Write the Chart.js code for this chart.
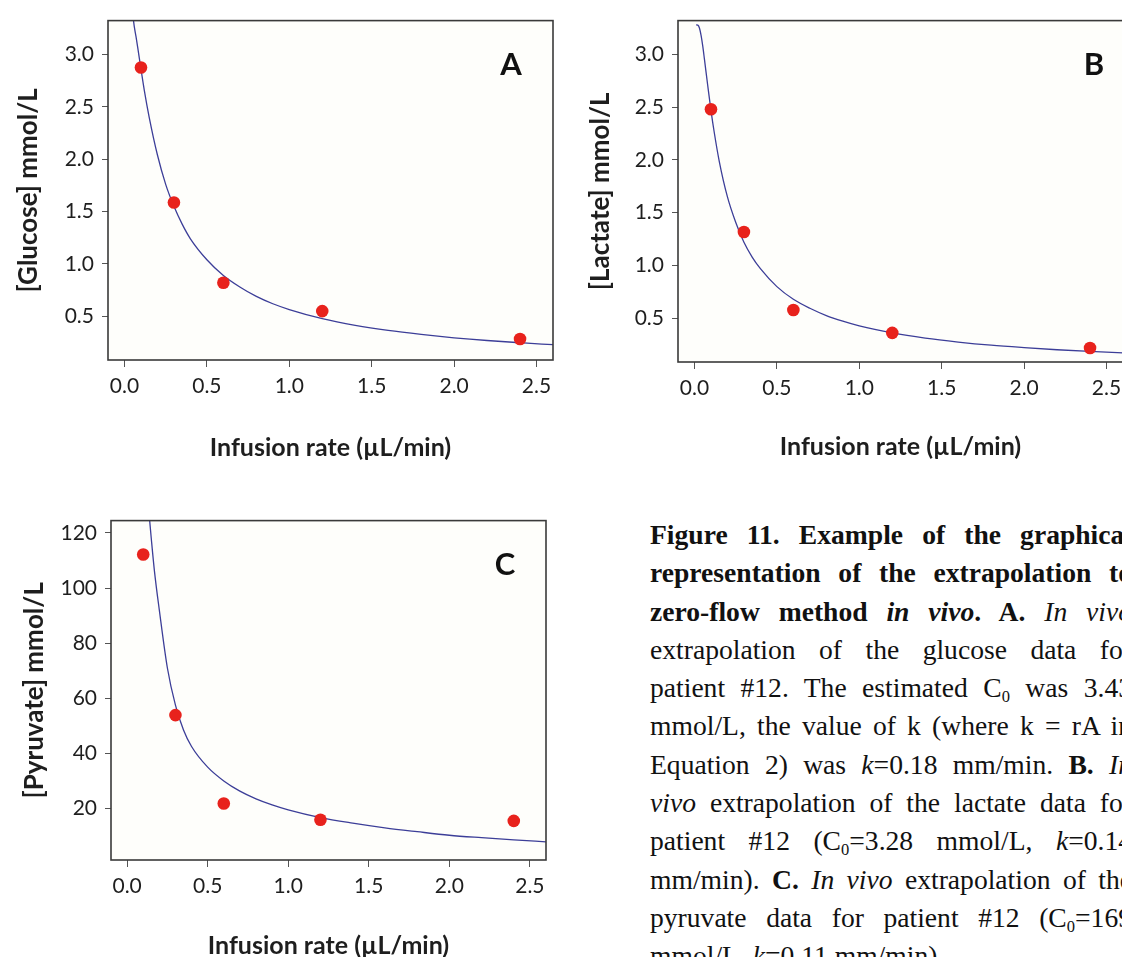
<!DOCTYPE html>
<html>
<head>
<meta charset="utf-8">
<script src="https://cdn.jsdelivr.net/npm/chart.js@4.4.1/dist/chart.umd.min.js"></script>
<style>
  html, body { margin: 0; padding: 0; background: #fff; overflow: hidden; }
  body { width: 1122px; height: 957px; position: relative; }
  canvas { position: absolute; }
  #caption {
    position: absolute; left: 650px; top: 516px; width: 482px;
    font-family: "Liberation Serif", "Times New Roman", serif;
    font-size: 27.6px; line-height: 38.3px; color: #111;
  }
  #caption div { text-align: justify; text-align-last: justify; white-space: nowrap; }
  #caption div.last { text-align-last: left; }
  #caption sub { font-size: 0.6em; vertical-align: -0.3em; line-height: 0; }
</style>
</head>
<body>
<canvas id="chartA"></canvas>
<canvas id="chartB"></canvas>
<canvas id="chartC"></canvas>

<div id="caption">
  <div><b>Figure 11. Example of the graphical</b></div>
  <div><b>representation of the extrapolation to</b></div>
  <div><b>zero-flow method <i>in vivo</i>. A.</b> <i>In vivo</i></div>
  <div>extrapolation of the glucose data for</div>
  <div>patient #12. The estimated C<sub>0</sub> was 3.43</div>
  <div>mmol/L, the value of k (where k = rA in</div>
  <div>Equation 2) was <i>k</i>=0.18 mm/min. <b>B.</b> <i>In</i></div>
  <div><i>vivo</i> extrapolation of the lactate data for</div>
  <div>patient #12 (C<sub>0</sub>=3.28 mmol/L, <i>k</i>=0.14</div>
  <div>mm/min). <b>C.</b> <i>In vivo</i> extrapolation of the</div>
  <div>pyruvate data for patient #12 (C<sub>0</sub>=169</div>
  <div class="last">mmol/L, <i>k</i>=0.11 mm/min).</div>
</div>

<script>
// ---- data ----
const rateTicks = [0.0, 0.5, 1.0, 1.5, 2.0, 2.5];
const rates = [0.1, 0.3, 0.6, 1.2, 2.4];

// A. glucose
const glucose = [2.875, 1.587, 0.82, 0.55, 0.284];
const glucoseTicks = [0.5, 1.0, 1.5, 2.0, 2.5, 3.0];
const fitRateA = [0.055, 0.06, 0.07, 0.08, 0.1, 0.12, 0.15, 0.2, 0.25, 0.3, 0.35, 0.4, 0.5, 0.6, 0.7, 0.8, 0.9, 1.0, 1.2, 1.4, 1.6, 1.8, 2.0, 2.2, 2.4, 2.6];
const fitGlucose = [3.32, 3.26, 3.17, 3.07, 2.86, 2.66, 2.40, 2.04, 1.76, 1.55, 1.38, 1.24, 1.04, 0.89, 0.78, 0.69, 0.62, 0.565, 0.478, 0.414, 0.365, 0.327, 0.295, 0.269, 0.248, 0.229];

// B. lactate
const lactate = [2.48, 1.318, 0.579, 0.362, 0.218];
const lactateTicks = [0.5, 1.0, 1.5, 2.0, 2.5, 3.0];
const fitRateB = [0.01, 0.02, 0.03, 0.04, 0.05, 0.06, 0.08, 0.1, 0.12, 0.15, 0.2, 0.25, 0.3, 0.35, 0.4, 0.5, 0.6, 0.7, 0.8, 0.9, 1.0, 1.2, 1.4, 1.6, 1.8, 2.0, 2.2, 2.4, 2.6];
const fitLactate = [3.28, 3.277, 3.25, 3.18, 3.08, 2.96, 2.71, 2.47, 2.26, 1.99, 1.65, 1.41, 1.22, 1.08, 0.97, 0.80, 0.68, 0.595, 0.526, 0.473, 0.428, 0.361, 0.312, 0.275, 0.245, 0.222, 0.202, 0.186, 0.172];

// C. pyruvate
const pyruvate = [112.2, 53.9, 21.8, 15.9, 15.5];
const pyruvateTicks = [20, 40, 60, 80, 100, 120];
const fitRateC = [0.14, 0.15, 0.17, 0.2, 0.25, 0.3, 0.35, 0.4, 0.5, 0.6, 0.7, 0.8, 0.9, 1.0, 1.2, 1.4, 1.6, 1.8, 2.0, 2.2, 2.4, 2.6];
const fitPyruvate = [124.5, 118, 106, 92, 71, 57.5, 48.5, 42.5, 35, 30, 26.3, 23.5, 21.3, 19.5, 16.7, 14.7, 13.0, 11.6, 10.3, 9.4, 8.6, 7.9];

// ---- look ----
const CURVE = '#3c3e98';
const DOT = '#e8221c';
const FRAME = '#3a3a3a';
const TEXT = '#1e1e1e';

// frame box + faint plot background, like the base-R plot
const framePlugin = {
  id: 'frame',
  beforeDatasetsDraw(chart) {
    const a = chart.chartArea, ctx = chart.ctx;
    ctx.save();
    ctx.fillStyle = '#fefefb';
    ctx.fillRect(a.left, a.top, a.right - a.left, a.bottom - a.top);
    ctx.restore();
  },
  afterDraw(chart, args, opts) {
    const a = chart.chartArea, ctx = chart.ctx;
    ctx.save();
    ctx.strokeStyle = FRAME;
    ctx.lineWidth = 1.6;
    ctx.strokeRect(a.left, a.top, a.right - a.left, a.bottom - a.top);
    // panel letter
    ctx.fillStyle = '#111';
    ctx.font = 'bold 31px Lato';
    ctx.textAlign = 'center';
    ctx.textBaseline = 'middle';
    ctx.fillText(opts.letter, opts.lx, opts.ly);
    ctx.restore();
  }
};

function panel(id, p) {
  const el = document.getElementById(id);
  el.width = p.box.w; el.height = p.box.h;
  el.style.left = p.box.x + 'px';
  el.style.top = p.box.y + 'px';

  new Chart(el, {
    type: 'scatter',
    data: {
      datasets: [
        {
          data: p.fitX.map((x, i) => ({ x, y: p.fitY[i] })),
          showLine: true, borderColor: CURVE, borderWidth: 1.3,
          pointRadius: 0, cubicInterpolationMode: 'monotone', order: 2
        },
        {
          data: rates.map((x, i) => ({ x, y: p.values[i] })),
          pointRadius: 6.3, backgroundColor: DOT, borderWidth: 0, order: 1
        }
      ]
    },
    options: {
      responsive: false, animation: false, events: [],
      layout: { padding: { left: 0, top: p.area.t - p.box.y, right: p.box.x + p.box.w - p.area.r, bottom: 0 } },
      plugins: {
        legend: { display: false }, tooltip: { enabled: false },
        frame: { letter: p.letter, lx: p.lx - p.box.x, ly: p.ly - p.box.y }
      },
      scales: {
        x: {
          type: 'linear', min: -0.1, max: 2.6,
          afterBuildTicks: ax => { ax.ticks = rateTicks.map(v => ({ value: v })); },
          afterFit: ax => { ax.height = p.box.y + p.box.h - p.area.b; },
          grid: { drawOnChartArea: false, drawTicks: true, tickLength: 7, color: '#555' },
          border: { display: false },
          ticks: { font: { family: 'Lato', size: 21 }, color: TEXT, padding: 7, maxRotation: 0, callback: v => v.toFixed(1) },
          title: {
            display: true, text: 'Infusion rate (µL/min)', color: TEXT,
            font: { family: 'Lato', size: 25, weight: 'bold' },
            padding: { top: 0, bottom: p.xTitlePad }
          }
        },
        y: {
          type: 'linear', min: p.yMin, max: p.yMax,
          afterBuildTicks: ax => { ax.ticks = p.yTicks.map(v => ({ value: v })); },
          afterFit: ax => { ax.width = p.area.l - p.box.x; },
          grid: { drawOnChartArea: false, drawTicks: true, tickLength: 6, color: '#555' },
          border: { display: false },
          ticks: { font: { family: 'Lato', size: 21 }, color: TEXT, padding: 8, callback: p.fmt },
          title: {
            display: true, text: p.yTitle, color: TEXT,
            font: { family: 'Lato', size: 26, weight: 'bold' },
            padding: { top: p.yTitlePad, bottom: 0 }
          }
        }
      }
    },
    plugins: [framePlugin]
  });
}

document.fonts.load('21px Lato').then(() => document.fonts.load('bold 25px Lato')).finally(() => {
  panel('chartA', {
    box: { x: 0, y: 0, w: 560, h: 470 }, area: { l: 108, t: 16, r: 553, b: 360 },
    values: glucose, fitX: fitRateA, fitY: fitGlucose, yTicks: glucoseTicks,
    yMin: 0.083, yMax: 3.323, fmt: v => v.toFixed(1),
    yTitle: '[Glucose] mmol/L', yTitlePad: 13, xTitlePad: 7,
    letter: 'A', lx: 511, ly: 65
  });
  panel('chartB', {
    box: { x: 570, y: 0, w: 560, h: 470 }, area: { l: 678, t: 18, r: 1123, b: 362 },
    values: lactate, fitX: fitRateB, fitY: fitLactate, yTicks: lactateTicks,
    yMin: 0.086, yMax: 3.32, fmt: v => v.toFixed(1),
    yTitle: '[Lactate] mmol/L', yTitlePad: 15, xTitlePad: 8,
    letter: 'B', lx: 1094, ly: 65
  });
  panel('chartC', {
    box: { x: 0, y: 500, w: 560, h: 462 }, area: { l: 111, t: 519, r: 546, b: 860 },
    values: pyruvate, fitX: fitRateC, fitY: fitPyruvate, yTicks: pyruvateTicks,
    yMin: 1.31, yMax: 124.5, fmt: v => String(Math.round(v)),
    yTitle: '[Pyruvate] mmol/L', yTitlePad: 19, xTitlePad: 1,
    letter: 'C', lx: 505, ly: 565
  });
});
</script>
</body>
</html>
